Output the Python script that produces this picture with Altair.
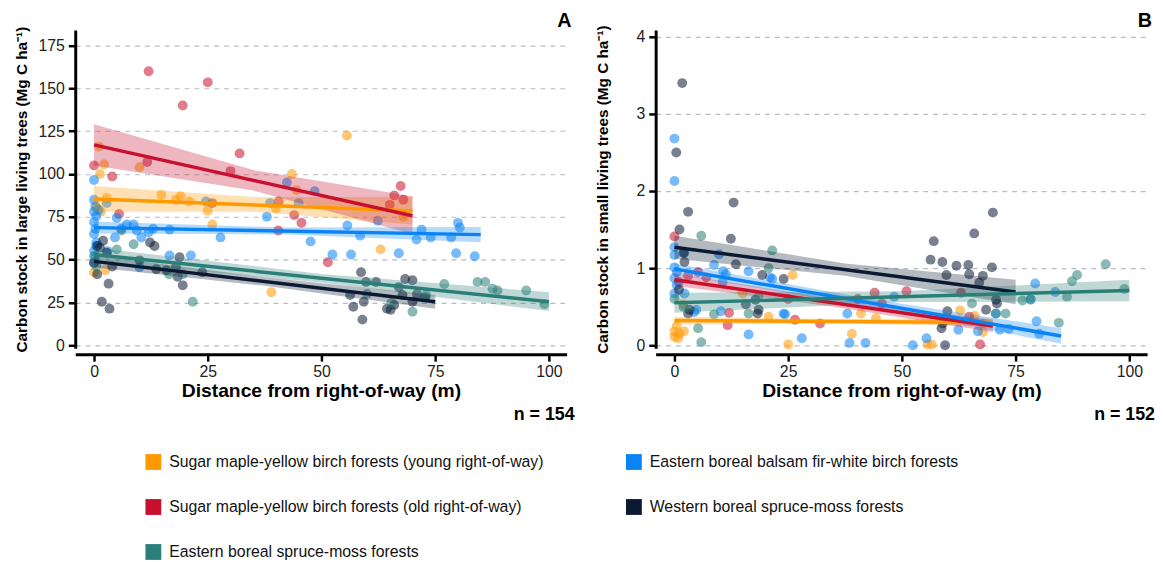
import altair as alt
import pandas as pd

# ---------------- groups / colours ----------------
GROUPS = {
    "young": "Sugar maple-yellow birch forests (young right-of-way)",
    "balsam": "Eastern boreal balsam fir-white birch forests",
    "old": "Sugar maple-yellow birch forests (old right-of-way)",
    "western": "Western boreal spruce-moss forests",
    "eastern": "Eastern boreal spruce-moss forests",
}
# legend order (filled column by column: young, old, eastern | balsam, western)
ORDER = ["young", "old", "eastern", "balsam", "western"]
COLORS = ["#FF9900", "#C8102E", "#2A7F78", "#0A84F5", "#0B1A33"]

# ---------------- panel A: large living trees (distance m, Mg C/ha) ----------------
A_young = [(1.1, 116), (2.2, 105.6), (1.3, 100), (10, 104), (43.5, 100), (55.6, 122.5), (44.5, 90.6),
           (14.8, 87.7), (19, 87), (21, 84), (25, 78.5), (26, 70.5), (39, 31), (2.8, 86), (0.7, 80),
           (0, 42.7), (2.5, 43.8), (63, 56), (68, 75), (1.5, 78), (40, 80), (18, 85)]
A_old = [(0, 105), (4, 98.6), (5.5, 76.7), (11.7, 107), (12, 160), (19.5, 140), (25, 153.5), (26, 83),
         (30, 101.7), (32, 112), (40.6, 84), (40.5, 67), (44, 76), (45.6, 71.5), (51.4, 48.5), (65, 82),
         (66, 87.5), (67.4, 93), (68, 85)]
A_balsam = [(0, 96.5), (0, 85), (0.3, 81), (0, 78), (0.5, 75.5), (0, 72), (0.3, 68), (0, 65), (0.5, 60),
            (0, 55), (0.3, 52), (0, 48.5), (0.5, 58), (1, 79), (2.8, 83), (5, 74.4), (7.2, 70.5), (8.7, 70.5),
            (9.4, 67), (10.4, 63), (4.6, 63), (16.6, 67.5), (16.6, 52.5), (21.3, 52.5), (10, 45.6), (27.8, 63),
            (24.6, 84), (38, 75), (38.7, 83), (42.4, 95), (48.5, 90), (45, 83), (55.7, 70), (58.5, 64),
            (47.6, 60.6), (52.4, 53), (56.5, 53), (62.4, 72.7), (67, 53.7), (70.9, 61.7), (72, 67.5), (74, 63),
            (78.5, 63), (80, 71.5), (80.4, 68.7), (79.6, 53.7), (83.7, 52), (13, 68), (3, 55), (6, 68), (12, 66)]
A_western = [(0.7, 58), (2, 61), (1.3, 57), (2.8, 54), (0.7, 41.5), (3.2, 36), (1.7, 25.4), (3.4, 21.4),
             (12.3, 60), (13.3, 58), (10, 49.6), (13.7, 44.4), (18.8, 51.4), (18, 45.6), (18.4, 40), (19.5, 35),
             (23.8, 42.7), (15.9, 43.8), (58.7, 42.7), (59.8, 37), (62, 37), (56.3, 29.4), (57, 22.5),
             (59.3, 25.4), (59, 15), (64.4, 21.4), (65.2, 20.8), (66, 23.6), (68.4, 38.7), (70, 38), (67, 34),
             (67.8, 29.4), (71, 30), (70, 25.4), (72.8, 28), (0, 48), (4, 46)]
A_eastern = [(0, 52), (0.5, 46), (5, 56), (8.7, 59), (6, 67), (16.5, 41.5), (19.5, 41.5), (21.7, 25.4),
             (65.4, 24.8), (70, 19.6), (73, 29.4), (77, 35.8), (84.3, 37), (86, 37), (87.6, 33), (88.7, 32),
             (95, 32), (99, 24), (60, 30)]

A_lines = {"young": [(0, 85.4), (70, 78.5)], "old": [(0, 117), (70, 75.6)],
           "balsam": [(0, 68.7), (85, 64.6)], "western": [(0, 49), (75, 25.4)],
           "eastern": [(0, 53), (100, 25.4)]}
A_bands = {"young": [(0, 78, 93), (35, 78, 86.5), (70, 70.5, 86.5)],
           "old": [(0, 105, 129), (35, 90.3, 102.3), (70, 65, 87)],
           "balsam": [(0, 65.2, 72.2), (42.5, 64.7, 68.7), (85, 60.1, 69.1)],
           "western": [(0, 45.5, 52.5), (37.5, 34.7, 39.7), (75, 21.4, 29.4)],
           "eastern": [(0, 49, 57), (50, 36.7, 41.7), (100, 20, 31)]}

# ---------------- panel B: small living trees ----------------
B_young = [(0, 0.18), (1.1, 0.15), (2.1, 0.18), (0.8, 0.09), (0, 0.11), (26, 0.91), (25, 0.01), (15, 0.67),
           (20.7, 0.37), (41, 0.41), (39, 0.15), (1.9, 0.53), (55.6, 0.01), (56.6, 0.01), (62.8, 0.45),
           (67.8, 0.17), (67.8, 0.28), (44.3, 0.35), (0.5, 0.25), (66, 0.38)]
B_old = [(0, 1.41), (5.2, 0.95), (12, 0.42), (11.7, 0.26), (26.5, 0.33), (32, 0.28), (44, 0.68), (51, 0.7),
         (64.8, 0.37), (67.2, 0.01), (40.3, 0.6), (45.6, 0.54), (25, 0.6), (63, 0.68), (7, 0.88), (3, 0.9)]
B_balsam = [(0, 2.68), (0, 2.13), (0, 1.27), (0, 1.17), (0, 1.01), (0, 0.87), (0.5, 0.78), (0, 0.67),
            (2.2, 0.67), (2.2, 1.2), (9.8, 1.18), (8.7, 1.04), (10.7, 0.96), (11.3, 0.92), (16.3, 0.96),
            (21, 0.88), (4.8, 0.46), (10.2, 0.44), (24.3, 0.4), (16.3, 0.14), (28, 0.09), (38, 0.41),
            (38.5, 0.03), (42, 0.03), (52.4, 0.0), (55.4, 0.09), (62.4, 0.2), (70.7, 0.41), (71.5, 0.2),
            (73.5, 0.21), (79.3, 0.8), (78.3, 0.6), (79.6, 0.31), (80.2, 0.15), (83.7, 0.69), (48.3, 0.63),
            (66.7, 0.18), (21.5, 0.86), (10.6, 0.82), (24, 0.41), (4.3, 0.43), (0.5, 0.95), (1, 0.82)]
B_western = [(1.7, 3.4), (0.4, 2.5), (1.1, 1.5), (3, 1.73), (13, 1.85), (12.4, 1.38), (13.5, 1.05),
             (2.2, 1.08), (2, 1.2), (1, 0.72), (3.3, 0.46), (3, 0.41), (19.3, 0.91), (24, 0.86), (15.7, 0.53),
             (18.5, 0.46), (17.8, 0.59), (18.3, 0.41), (57, 1.35), (56.3, 1.11), (58.9, 1.08), (62, 1.03),
             (64.6, 1.04), (65.9, 1.45), (70, 1.72), (69.8, 1.01), (59.8, 0.91), (64.8, 0.92), (67.8, 0.9),
             (67, 0.81), (70.7, 0.59), (70.9, 0.54), (68.5, 0.46), (60, 0.44), (59, 0.28), (58.7, 0.22),
             (59.5, 0.0)]
B_eastern = [(5.9, 1.42), (21.5, 1.23), (20.7, 1.0), (8.7, 0.4), (5.2, 0.22), (5.9, 0.04), (16.3, 0.41),
             (18.5, 0.63), (65.4, 0.54), (70.6, 0.41), (72.8, 0.41), (76.5, 0.58), (78.3, 0.59), (84.5, 0.29),
             (86.3, 0.63), (87.4, 0.83), (88.5, 0.91), (94.8, 1.05), (98.9, 0.73), (0, 0.6), (2, 0.5)]

B_lines = {"young": [(0, 0.32), (70, 0.295)], "old": [(0, 0.85), (70, 0.25)],
           "balsam": [(0, 0.99), (85, 0.12)], "western": [(0, 1.27), (75, 0.69)],
           "eastern": [(0, 0.55), (100, 0.71)]}
B_bands = {"young": [(0, 0.27, 0.37), (35, 0.28, 0.34), (70, 0.245, 0.345)],
           "old": [(0, 0.77, 0.93), (35, 0.50, 0.60), (70, 0.17, 0.33)],
           "balsam": [(0, 0.92, 1.06), (42.5, 0.505, 0.605), (85, 0.02, 0.22)],
           "western": [(0, 1.12, 1.42), (37.5, 0.90, 1.06), (75, 0.53, 0.85)],
           "eastern": [(0, 0.42, 0.68), (50, 0.56, 0.70), (100, 0.57, 0.85)]}

X_TICKS = [0, 25, 50, 75, 100]
A_TICKS = [0, 25, 50, 75, 100, 125, 150, 175]
B_TICKS = [0, 1, 2, 3, 4]

W, H = 497, 322
FONT = "Liberation Sans"


def points_df(d):
    rows = []
    for k, pts in d.items():
        for x, y in pts:
            rows.append({"d": x, "v": y, "g": GROUPS[k]})
    return pd.DataFrame(rows)


def bands_df(d):
    rows = []
    for k in ["young", "old", "balsam", "western", "eastern"]:
        for x, lo, hi in d[k]:
            rows.append({"d": x, "lo": lo, "hi": hi, "g": GROUPS[k]})
    return pd.DataFrame(rows)


def lines_df(d):
    rows = []
    for k in ["young", "old", "balsam", "western", "eastern"]:
        for x, y in d[k]:
            rows.append({"d": x, "v": y, "g": GROUPS[k]})
    return pd.DataFrame(rows)


color_scale = alt.Scale(domain=[GROUPS[k] for k in ORDER], range=COLORS)


def panel(pts, lines, bands, ydom, yticks, ytitle, letter, ntext, tpad):
    xs = alt.Scale(domain=[-4.13, 103.9], nice=False, zero=False)
    ys = alt.Scale(domain=ydom, nice=False, zero=False)
    xax = alt.Axis(values=X_TICKS, grid=False, offset=6, domainWidth=3, domainColor="black",
                   tickColor="black", tickWidth=2.5, tickSize=7, labelFontSize=16, labelColor="#222",
                   labelPadding=3, title="Distance from right-of-way (m)", titleFontSize=19.5,
                   titleFontWeight="bold", titleColor="black", titlePadding=2, format="d")
    yax = alt.Axis(values=yticks, grid=True, gridDash=[5, 5], gridColor="#B9BCC6", gridWidth=1.2,
                   domainWidth=3, domainColor="black", tickColor="black", tickWidth=2.5, tickSize=7,
                   labelFontSize=16, labelColor="#222", labelPadding=4, title=ytitle, titleFontSize=15.5,
                   titleFontWeight="bold", titleColor="black", titlePadding=tpad, format="d")
    p = alt.Chart(points_df(pts)).mark_circle(size=100, opacity=0.55).encode(
        x=alt.X("d:Q", scale=xs, axis=xax),
        y=alt.Y("v:Q", scale=ys, axis=yax),
        color=alt.Color("g:N", scale=color_scale, legend=alt.Legend(title=None)),
    )
    b = alt.Chart(bands_df(bands)).mark_area(opacity=0.3).encode(
        x="d:Q", y="lo:Q", y2="hi:Q",
        color=alt.Color("g:N", scale=color_scale, legend=None),
    )
    l = alt.Chart(lines_df(lines)).mark_line(strokeWidth=3.5).encode(
        x="d:Q", y="v:Q",
        color=alt.Color("g:N", scale=color_scale, legend=None),
    )
    t1 = alt.Chart(pd.DataFrame({"t": [letter]})).mark_text(
        fontSize=20, fontWeight="bold", align="right", baseline="middle", color="black"
    ).encode(text="t:N", x=alt.value(W + 5), y=alt.value(-9))
    t2 = alt.Chart(pd.DataFrame({"t": [ntext]})).mark_text(
        fontSize=18, fontWeight="bold", align="right", baseline="middle", color="black"
    ).encode(text="t:N", x=alt.value(W + 8), y=alt.value(H + 68))
    return alt.layer(p, b, l, t1, t2).properties(width=W, height=H)


pA = panel({"young": A_young, "old": A_old, "balsam": A_balsam, "western": A_western, "eastern": A_eastern},
           A_lines, A_bands, [-1.73, 184.1], A_TICKS,
           "Carbon stock in large living trees (Mg C ha\u207b\u00b9)", "A", "n = 154", 9)
pB = panel({"young": B_young, "old": B_old, "balsam": B_balsam, "western": B_western, "eastern": B_eastern},
           B_lines, B_bands, [-0.04, 4.09], B_TICKS,
           "Carbon stock in small living trees (Mg C ha\u207b\u00b9)", "B", "n = 152", 26)

chart = alt.hconcat(pA, pB, spacing=21).properties(
    padding={"left": 6, "top": 0, "right": 0, "bottom": 0}
).configure(font=FONT).configure_view(strokeWidth=0).configure_legend(
    orient="none", legendX=71, legendY=429, columns=2, symbolType="square", symbolSize=256,
    symbolOpacity=1, symbolStrokeWidth=0, labelFontSize=16, labelFont=FONT, labelColor="#111",
    columnPadding=83, rowPadding=29.5, labelLimit=600, labelOffset=8
)

chart.save("out.html", embed_options={"renderer": "svg", "actions": False})
